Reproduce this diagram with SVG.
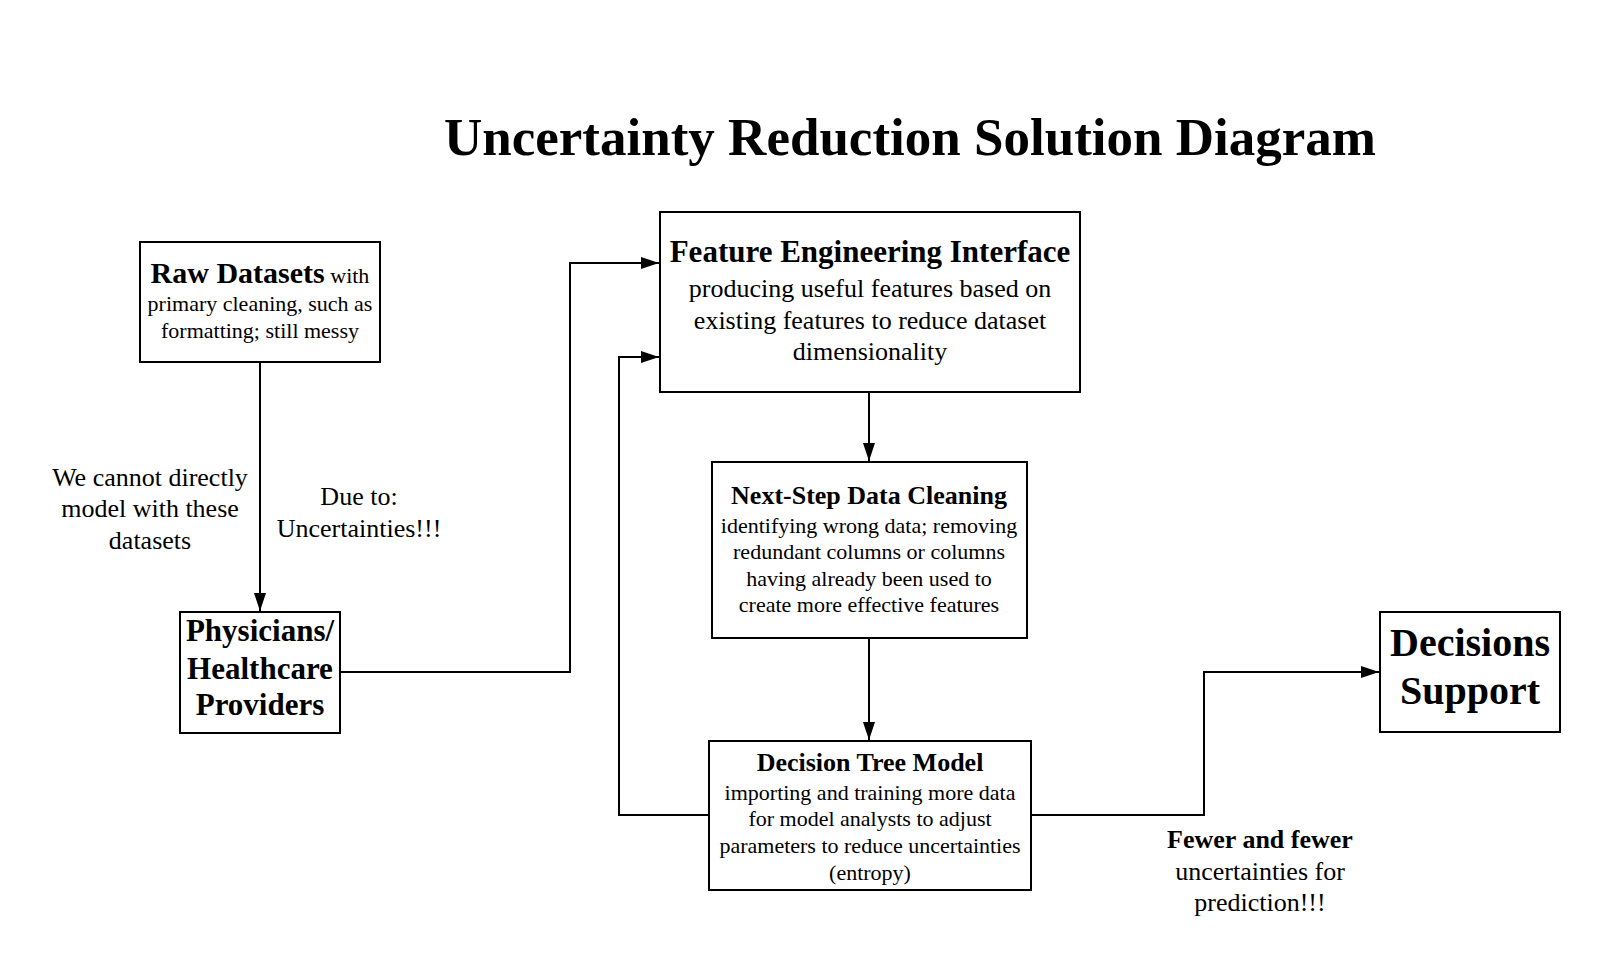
<svg xmlns="http://www.w3.org/2000/svg" width="1600" height="968" viewBox="0 0 1600 968">
<defs>
<marker id="arr" viewBox="0 0 18 12" refX="18" refY="6" markerWidth="18" markerHeight="12" markerUnits="userSpaceOnUse" orient="auto">
<path d="M0,0 L18,6 L0,12 Z" fill="#000"/>
</marker>
<style>
.box{fill:#fff;stroke:#000;stroke-width:2}
.t{font-family:"Liberation Serif","Times New Roman",serif;fill:#000;text-anchor:middle}
.b{font-weight:bold}
.conn{fill:none;stroke:#000;stroke-width:2}
</style>
</defs>
<rect width="1600" height="968" fill="#fff"/>
<text class="t b" x="910" y="155" font-size="53">Uncertainty Reduction Solution Diagram</text>
<g id="connectors">
<path class="conn" d="M260,362 V611" marker-end="url(#arr)"/>
<path class="conn" d="M340,672 H570 V263 H659" marker-end="url(#arr)"/>
<path class="conn" d="M869,392 V461" marker-end="url(#arr)"/>
<path class="conn" d="M869,638 V740" marker-end="url(#arr)"/>
<path class="conn" d="M709,815 H619 V357 H659" marker-end="url(#arr)"/>
<path class="conn" d="M1031,815 H1204 V672 H1379" marker-end="url(#arr)"/>
</g>
<g id="raw">
<rect class="box" x="140" y="242" width="240" height="120"/>
<text class="t" x="260" y="283" font-size="22"><tspan class="b" font-size="30">Raw Datasets</tspan> with</text>
<text class="t" x="260" y="311" font-size="22">primary cleaning, such as</text>
<text class="t" x="260" y="338" font-size="22">formatting; still messy</text>
</g>
<g id="physicians">
<rect class="box" x="180" y="612" width="160" height="121"/>
<text class="t b" x="260" y="641" font-size="31">Physicians/</text>
<text class="t b" x="260" y="679" font-size="31">Healthcare</text>
<text class="t b" x="260" y="715" font-size="31">Providers</text>
</g>
<g id="feature">
<rect class="box" x="660" y="212" width="420" height="180"/>
<text class="t b" x="870" y="262" font-size="31">Feature Engineering Interface</text>
<text class="t" x="870" y="297" font-size="26">producing useful features based on</text>
<text class="t" x="870" y="329" font-size="26">existing features to reduce dataset</text>
<text class="t" x="870" y="360" font-size="26">dimensionality</text>
</g>
<g id="cleaning">
<rect class="box" x="712" y="462" width="315" height="176"/>
<text class="t b" x="869" y="504" font-size="26">Next-Step Data Cleaning</text>
<text class="t" x="869" y="533" font-size="22">identifying wrong data; removing</text>
<text class="t" x="869" y="559" font-size="22">redundant columns or columns</text>
<text class="t" x="869" y="586" font-size="22">having already been used to</text>
<text class="t" x="869" y="612" font-size="22">create more effective features</text>
</g>
<g id="tree">
<rect class="box" x="709" y="741" width="322" height="149"/>
<text class="t b" x="870" y="771" font-size="26">Decision Tree Model</text>
<text class="t" x="870" y="800" font-size="22">importing and training more data</text>
<text class="t" x="870" y="826" font-size="22">for model analysts to adjust</text>
<text class="t" x="870" y="853" font-size="22">parameters to reduce uncertainties</text>
<text class="t" x="870" y="880" font-size="22">(entropy)</text>
</g>
<g id="support">
<rect class="box" x="1380" y="612" width="180" height="120"/>
<text class="t b" x="1470" y="656" font-size="40">Decisions</text>
<text class="t b" x="1470" y="704" font-size="40">Support</text>
</g>
<g id="labels">
<text class="t" x="150" y="486" font-size="26">We cannot directly</text>
<text class="t" x="150" y="517" font-size="26">model with these</text>
<text class="t" x="150" y="549" font-size="26">datasets</text>
<text class="t" x="359" y="505" font-size="26">Due to:</text>
<text class="t" x="359" y="537" font-size="26">Uncertainties!!!</text>
<text class="t b" x="1260" y="848" font-size="26">Fewer and fewer</text>
<text class="t" x="1260" y="880" font-size="26">uncertainties for</text>
<text class="t" x="1260" y="911" font-size="26">prediction!!!</text>
</g>
</svg>
